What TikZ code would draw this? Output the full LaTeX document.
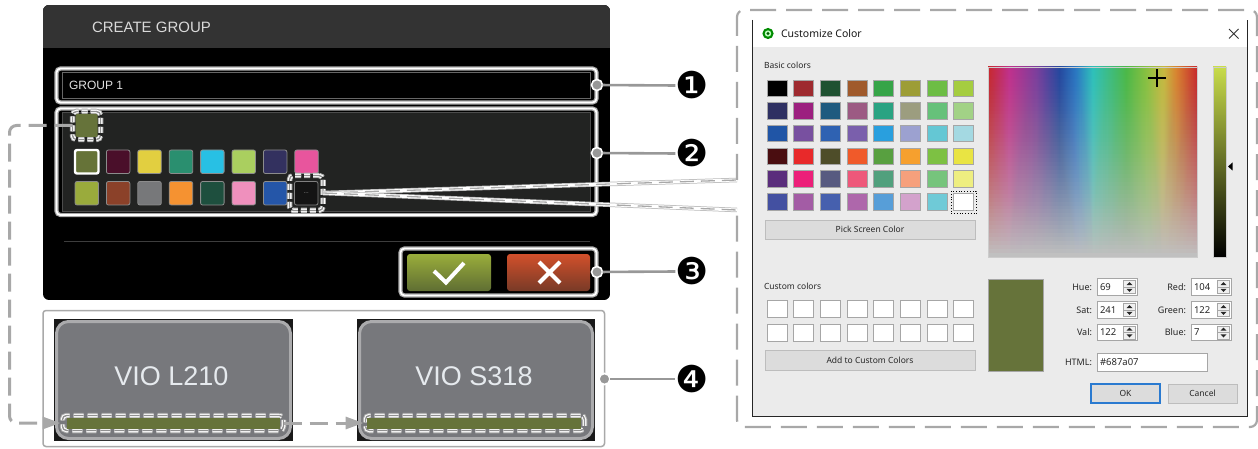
\documentclass[tikz,border=0pt]{standalone}
\usepackage{fontspec}
\setmainfont{Liberation Sans}
\newfontfamily\uifont{Noto Sans}
\newfontfamily\dingfont{DejaVu Sans}
\usetikzlibrary{arrows.meta}

\definecolor{hdrgray}{HTML}{333333}
\definecolor{areagray}{HTML}{222322}
\definecolor{olivesw}{HTML}{66733A}
\definecolor{hlgray}{HTML}{A9A9A9}
\definecolor{linkgray}{HTML}{A8A8A8}
\definecolor{dlgbg}{HTML}{EBEBEB}
\definecolor{dlgedge}{HTML}{A6A6A6}
\definecolor{btnface}{HTML}{DCDCDC}
\definecolor{btnedge}{HTML}{BDBDBD}
\definecolor{okblue}{HTML}{2A7AD0}
\definecolor{tilegray}{HTML}{77787C}
\definecolor{tileedge}{HTML}{ABABAD}
\definecolor{tiletext}{HTML}{E6EAEE}
\definecolor{okgreenA}{HTML}{9AAD3B}
\definecolor{okgreenB}{HTML}{5F6E33}
\definecolor{noredA}{HTML}{D2502B}
\definecolor{noredB}{HTML}{783A27}
% hue strip of the colour picker
\definecolor{hue0}{HTML}{C8282D}
\definecolor{hue1}{HTML}{C0308C}
\definecolor{hue2}{HTML}{7C3E9C}
\definecolor{hue3}{HTML}{25489E}
\definecolor{hue4}{HTML}{2A78C2}
\definecolor{hue5}{HTML}{2EC0BA}
\definecolor{hue6}{HTML}{4CB848}
\definecolor{hue7}{HTML}{8CC040}
\definecolor{hue8}{HTML}{C8B840}
\definecolor{hue9}{HTML}{D8832F}
\definecolor{specgray}{HTML}{C0C0C0}
\definecolor{valtop}{HTML}{C8DC4A}
\definecolor{valmid}{HTML}{66783A}

\pgfdeclarehorizontalshading{huebar}{100bp}{color(0bp)=(hue0); color(25bp)=(hue0);
  color(30bp)=(hue1); color(36.5bp)=(hue2); color(42bp)=(hue3); color(46bp)=(hue4);
  color(50bp)=(hue5); color(58bp)=(hue6); color(63bp)=(hue7); color(67bp)=(hue8);
  color(70bp)=(hue9); color(75bp)=(hue0); color(100bp)=(hue0)}

\tikzset{
  dblframe/.style={draw=hlgray, line width=1.2pt, double=white, double distance=1.8pt,
    rounded corners=4pt},
  dashframe/.style={preaction={draw=hlgray, line width=5.5pt},
    preaction={draw=white, line width=3.5pt},
    draw=hlgray!85!black, line width=1.4pt, dash pattern=on 6pt off 3pt,
    rounded corners=4pt},
  longdash/.style={dash pattern=on 10pt off 4pt},
  link/.style={draw=linkgray, line width=3pt, dash pattern=on 18pt off 8pt,
    rounded corners=7pt},
  linktip/.style={-{Triangle[length=18pt, width=12pt]}, shorten >=2pt},
  zoomlink/.style={preaction={draw=hlgray!80, line width=4.5pt},
    preaction={draw=white, line width=3pt},
    draw=hlgray, line width=1.3pt, dash pattern=on 14pt off 7pt},
  zoomframe/.style={draw=linkgray, line width=2.2pt, dash pattern=on 26pt off 10pt,
    rounded corners=7pt},
  calldot/.style={circle, fill=hlgray!90!black, draw=white, line width=1.6pt,
    minimum size=11pt},
  callline/.style={draw=hlgray!90!black, line width=2.6pt},
  callnum/.style={font=\dingfont\fontsize{37}{37}\selectfont},
  dlgsmall/.style={font=\uifont\fontsize{8.5}{10}\selectfont, text=black!85},
  dlglabel/.style={font=\uifont\fontsize{9}{10}\selectfont, text=black!85},
  btnbox/.style={draw=btnedge, fill=btnface, line width=0.8pt,
    font=\uifont\fontsize{8.5}{10}\selectfont, text=black!85},
}

\begin{document}
\begin{tikzpicture}[x=1pt, y=-1pt, every node/.style={inner sep=0pt, outer sep=0pt}]
\useasboundingbox (0,0) rectangle (1258,449);
\fill[white] (0,0) rectangle (1258,449);

% ---------- create-group panel ----------
\begin{scope}
  \clip[rounded corners=6pt] (43,5) rectangle (610,300);
  \fill[black] (43,5) rectangle (610,300);
  \fill[hdrgray] (43,5) rectangle (610,48);
\end{scope}
\node[anchor=west, text=white!85!black, font=\fontsize{15}{18}\selectfont] (title) at (92,27.5) {CREATE GROUP};

% group name field
\draw[dblframe] (56.5,68.5) rectangle (596.5,102.5);
\draw[draw=white!40!black, fill=black, line width=0.8pt] (62,72) rectangle (590.5,98.5);
\node[anchor=west, text=white!88!black, font=\fontsize{12}{14}\selectfont] (gname) at (69,85.5) {GROUP 1};

% colour area
\draw[dblframe] (56.5,108.5) rectangle (596.5,215);
\draw[draw=white!30!black, fill=areagray, line width=0.8pt] (62,112.5) rectangle (590.5,211);

% current colour
\node[dashframe, minimum width=28pt, minimum height=28pt] (selhl) at (86.5,125.5) {};
\fill[olivesw, rounded corners=1.5pt] (75.5,114) rectangle (97.5,137);

% palette
\foreach \c [count=\i from 0] in {667338,4A0F2A,E2CF40,2A8F6F,28C0E4,AACF5F,33315F,E8559D}{
  \definecolor{sw}{HTML}{\c}
  \fill[sw, draw=white!55!black, line width=0.8pt, rounded corners=2pt]
    ({75+31.4*\i},150) rectangle ++(23.5,23.5);
}
\draw[white, line width=2.4pt, rounded corners=2pt] (75,150) rectangle ++(23.5,23.5);
\foreach \c [count=\i from 0] in {9AAB3C,8B4129,77787A,F59231,1E4F3E,EF90BD,2556A8}{
  \definecolor{sw}{HTML}{\c}
  \fill[sw, draw=white!55!black, line width=0.8pt, rounded corners=2pt]
    ({75+31.4*\i},181.5) rectangle ++(23.5,23.5);
}
\node[dashframe, minimum width=33.5pt, minimum height=35pt] (dotshl) at (306.25,193) {};
\node[fill=black!92, draw=white!50!black, line width=0.8pt, rounded corners=2pt,
  minimum width=23.5pt, minimum height=23.5pt, text=white!65!black,
  font=\fontsize{6}{6}\selectfont] (dots) at (306.25,193.25) {...};

% separator and buttons
\draw[white!24!black, line width=1.5pt] (64,241.5) -- (590,241.5);
\draw[dblframe] (400.5,248.5) rectangle (596.5,295.5);
\shade[top color=okgreenA, bottom color=okgreenB, rounded corners=3pt] (407,254) rectangle (491,291);
\shade[top color=noredA, bottom color=noredB, rounded corners=3pt] (507,254) rectangle (590,291);
\draw[white, line width=4pt] (434,271) -- (446,282.5) -- (464,263);
\draw[white, line width=4pt] (539,262) -- (560,283) (539,283) -- (560,262);

% ---------- device tiles ----------
\draw[hlgray, line width=1.5pt, rounded corners=3pt] (43,310.5) rectangle (604.5,446.5);
\fill[black!90] (54,319) rectangle (293,441);
\draw[fill=tilegray, draw=tileedge, line width=3pt, rounded corners=12pt] (56.5,321.5) rectangle (290.5,438.5);
\node[text=tiletext, font=\fontsize{27}{30}\selectfont] (tile1) at (171.5,376) {VIO L210};
\node[dashframe, longdash, minimum width=221pt, minimum height=15pt] (bar1hl) at (173,423) {};
\fill[olivesw] (67,418) rectangle (280,429);

\fill[black!90] (357,319) rectangle (595,441);
\draw[fill=tilegray, draw=tileedge, line width=3pt, rounded corners=12pt] (359.5,321.5) rectangle (592.5,438.5);
\node[text=tiletext, font=\fontsize{27}{30}\selectfont] (tile2) at (474,376) {VIO S318};
\node[dashframe, longdash, minimum width=219pt, minimum height=15pt] (bar2hl) at (475,423) {};
\fill[olivesw] (367,418) rectangle (581,429);

% colour carried from the group to the devices
\draw[link, linktip] (selhl.west) -- ++(-63,0) |- (bar1hl.west);
\draw[link, linktip] (bar1hl.east) -- (bar2hl.west);

% ---------- callouts ----------
\node[callnum] (n1) at (692,85.5) {❶};
\node[callnum] (n2) at (692,153.5) {❷};
\node[callnum] (n3) at (692,271.5) {❸};
\node[callnum] (n4) at (692,379) {❹};
\node[calldot] (d1) at (597,85) {};
\node[calldot] (d2) at (597,153) {};
\node[calldot] (d3) at (597,272) {};
\node[calldot] (d4) at (604.5,379) {};
\foreach \k in {1,2,3,4}{ \draw[callline] (d\k) -- (n\k.west); }

% ---------- zoom to the colour dialog ----------
\coordinate (za) at (737,180);
\coordinate (zb) at (737,210);
\coordinate (ztr) at (1257,10);
\coordinate (zbl) at (737,427);
\draw[zoomlink] (dotshl.east) -- (za);
\draw[zoomlink] (dotshl.east) -- (zb);
\draw[zoomframe] (za) |- (ztr) |- (zbl) -- (zb);

% dialog window
\fill[white] (752,18) rectangle (1248,47);
\fill[dlgbg] (752,47) rectangle (1248,416);
\draw[black!85, line width=1pt] (752.5,20) -- (752.5,416) -- (1247.5,416) -- (1247.5,20);
\fill[green!55!black] (768,33.5) circle (5.6pt);
\fill[white!75!green] (768,33.5) circle (3.2pt);
\fill[green!35!black] (768,33.5) circle (1.7pt);
\node[anchor=west, font=\uifont\fontsize{10.5}{12}\selectfont, text=black!90] (dtitle) at (781,34) {Customize Color};
\draw[black!80, line width=0.9pt] (1229,29) -- (1238.5,38.5) (1229,38.5) -- (1238.5,29);

% basic colours
\node[anchor=west, dlgsmall] (basic) at (764,65.5) {Basic colors};
\foreach \c [count=\i from 0] in {
  000000,9E2A2F,1F5131,A05A2C,36A448,9D9D36,6DBD45,A5CD40,
  2E3062,9C207F,1F5A7F,9C5A83,2AA382,9C9D7F,66C17A,A2D286,
  2055A6,7850A0,2F62B2,7A5FAC,299FDE,9CA1D0,64C7D4,A4D9E2,
  4A0D10,E8292A,4E4D29,F05A2A,58A040,F6A02E,7DC143,E9E443,
  5A2D7C,EC1F79,575A80,EE587A,51A07D,F6A07C,76C47C,EEEE80,
  4350A1,A35CA5,4660AE,AE67AB,579ED8,D3A2CC,6FCAD7,FFFFFF}{
  \pgfmathtruncatemacro{\cl}{mod(\i,8)}
  \pgfmathtruncatemacro{\rw}{\i/8}
  \definecolor{sw}{HTML}{\c}
  \fill[sw, draw=dlgedge, line width=0.9pt] ({767+26.67*\cl},{80+22.7*\rw}) rectangle ++(20,16.5);
}
\draw[black, dotted, line width=0.8pt] (951.2,191) rectangle (976.2,213.5);
\node[btnbox, minimum width=210pt, minimum height=19pt] (pick) at (870,229.5) {Pick Screen Color};

% custom colours
\node[anchor=west, dlgsmall] (custom) at (764,286) {Custom colors};
\foreach \r in {0,1}{
  \foreach \cl in {0,...,7}{
    \fill[white, draw=dlgedge, line width=0.9pt] ({767+26.67*\cl},{300.5+23.5*\r}) rectangle ++(20,17);
  }
}
\node[btnbox, minimum width=210pt, minimum height=20pt] (addc) at (870,360) {Add to Custom Colors};

% spectrum: hue across, grey veil thickening towards the bottom
\shade[shading=huebar] (988,67) rectangle (1197,257);
\foreach \k in {1,...,47}{
  \pgfmathsetmacro{\ta}{((\k-1)/47+0.00001)^1.25}
  \pgfmathsetmacro{\tb}{min(0.99999,(\k/47)^1.25)}
  \pgfmathsetmacro{\op}{1-(1-\tb)/(1-\ta)}
  \fill[specgray, fill opacity=\op] (988,{67+\k*190/48}) rectangle (1197,257);
}
\draw[white!80!black, line width=0.6pt] (988,67) rectangle (1197,257);
\draw[black, line width=1.5pt] (1148,78) -- (1166,78) (1157,69) -- (1157,87);
\shade[top color=valtop, middle color=valmid, bottom color=black] (1213,67) rectangle (1226,257);
\draw[white!80!black, line width=0.6pt] (1213,67) rectangle (1226,257);
\fill[black] (1228,166.5) -- (1232.5,162.5) -- (1232.5,170.5) -- cycle;

% current colour and its values
\draw[fill=olivesw, draw=dlgedge, line width=0.9pt] (988,279) rectangle (1043,371);
\foreach \lab/\val/\bx/\cy [count=\k] in {Hue/69/1097/287, Sat/241/1097/310, Val/122/1097/332.5,
    Red/104/1191/287, Green/122/1191/310, Blue/7/1191/332.5}{
  \draw[fill=white, draw=dlgedge, line width=0.9pt] (\bx,\cy-8.25) rectangle (\bx+40.5,\cy+8.25);
  \draw[fill=black!6, draw=dlgedge, line width=0.6pt] (\bx+26.5,\cy-6.5) rectangle (\bx+38.5,\cy+6.5);
  \draw[dlgedge, line width=0.6pt] (\bx+26.5,\cy) -- (\bx+38.5,\cy);
  \fill[black!85] (\bx+32.5,\cy-5) -- (\bx+29.5,\cy-1.8) -- (\bx+35.5,\cy-1.8) -- cycle;
  \fill[black!85] (\bx+32.5,\cy+5) -- (\bx+29.5,\cy+1.8) -- (\bx+35.5,\cy+1.8) -- cycle;
  \node[dlglabel, anchor=east] (lab\k) at (\bx-5,\cy) {\lab:};
  \node[dlglabel, anchor=west, font=\uifont\fontsize{9.5}{10}\selectfont] (val\k) at (\bx+3,\cy) {\val};
}
\node[dlglabel, anchor=east] (htmllab) at (1092,362) {HTML:};
\draw[fill=white, draw=dlgedge, line width=0.9pt] (1097,353.5) rectangle (1207,371);
\node[dlglabel, anchor=west, font=\uifont\fontsize{9.5}{10}\selectfont] (htmlval) at (1100,362.2) {\#687a07};
\node[btnbox, draw=okblue, line width=1.3pt, minimum width=69pt, minimum height=19pt] (okbtn) at (1125.5,393.5) {OK};
\node[btnbox, minimum width=69pt, minimum height=19pt] (cancelbtn) at (1202.5,393.5) {Cancel};
\end{tikzpicture}
\end{document}
